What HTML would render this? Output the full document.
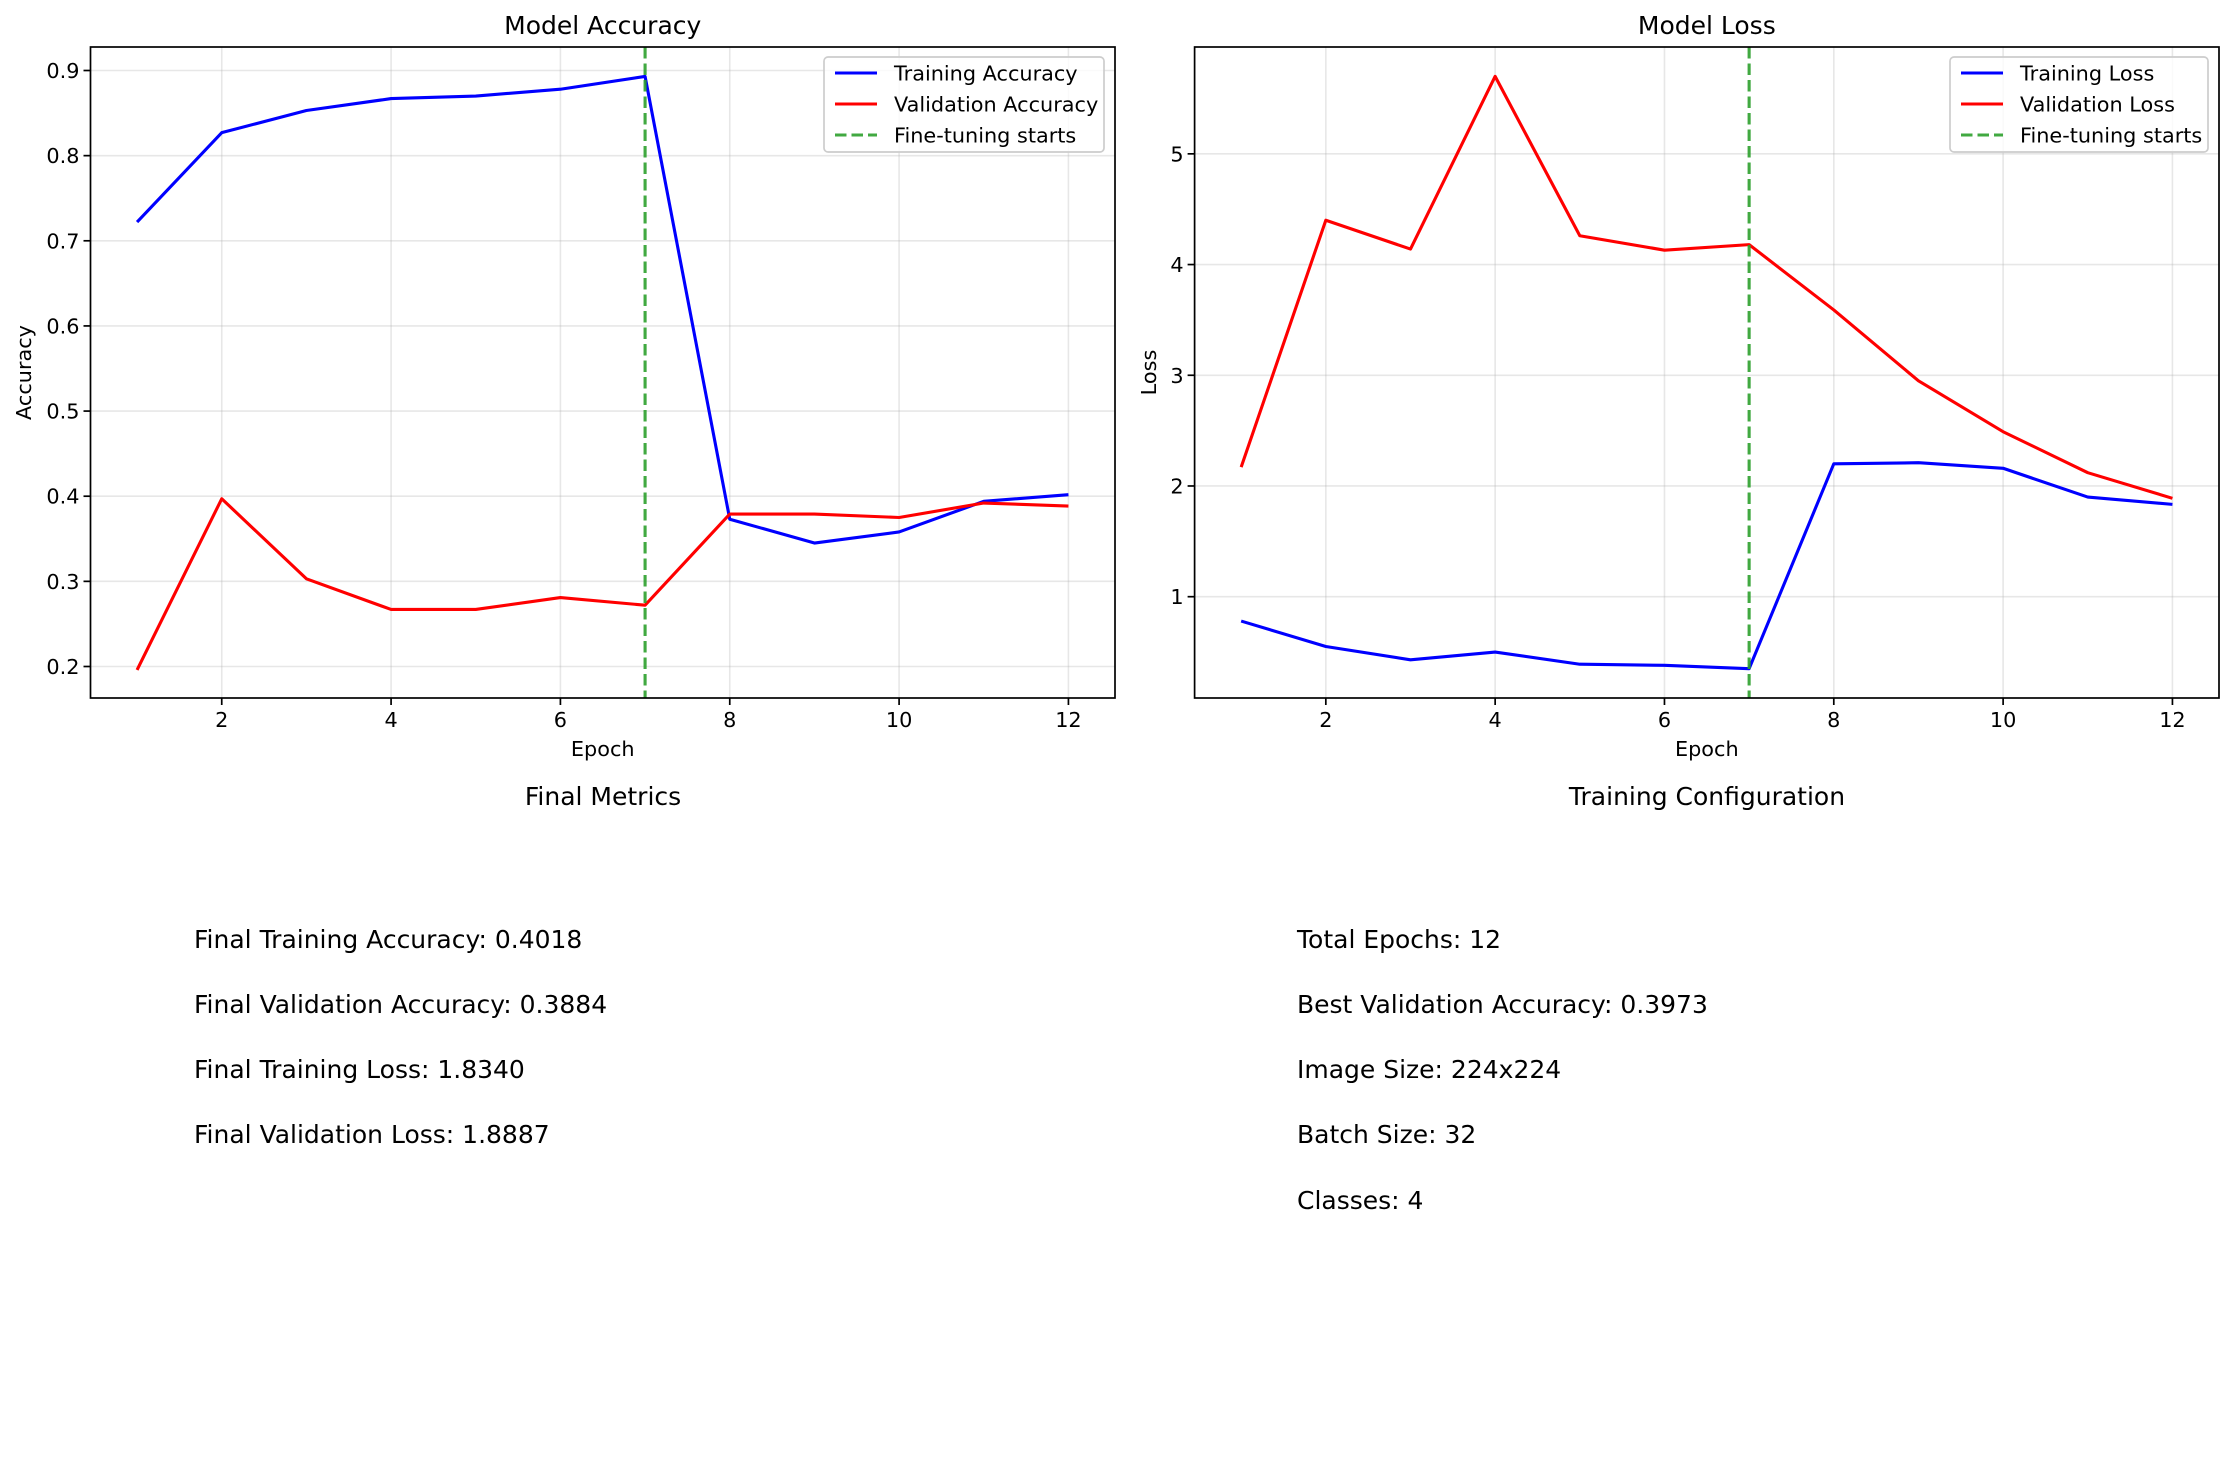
<!DOCTYPE html>
<html><head><meta charset="utf-8"><style>
html,body{margin:0;padding:0;background:#fff;}
svg{display:block;font-family:"DejaVu Sans","Liberation Sans",sans-serif;}
</style></head><body>
<svg id="fig" width="2234" height="1483" viewBox="0 0 2234 1483" xmlns="http://www.w3.org/2000/svg">
<rect width="2234" height="1483" fill="#fff"/>
<g id="accChart"></g>
<g id="lossChart"></g>
<g font-size="25" fill="#000">
<text x="603" y="805" text-anchor="middle" font-size="25">Final Metrics</text>
<text x="194" y="948">Final Training Accuracy: 0.4018</text>
<text x="194" y="1013">Final Validation Accuracy: 0.3884</text>
<text x="194" y="1078">Final Training Loss: 1.8340</text>
<text x="194" y="1143">Final Validation Loss: 1.8887</text>
</g>
<g font-size="25" fill="#000">
<text x="1707" y="805" text-anchor="middle" font-size="25">Training Configuration</text>
<text x="1297" y="948">Total Epochs: 12</text>
<text x="1297" y="1013">Best Validation Accuracy: 0.3973</text>
<text x="1297" y="1078">Image Size: 224x224</text>
<text x="1297" y="1143">Batch Size: 32</text>
<text x="1297" y="1209">Classes: 4</text>
</g>
</svg>
<script>
const epochs = [1,2,3,4,5,6,7,8,9,10,11,12];
const trainAcc = [0.722,0.827,0.853,0.867,0.870,0.878,0.893,0.373,0.345,0.358,0.394,0.4018];
const valAcc = [0.196,0.397,0.303,0.267,0.267,0.281,0.272,0.379,0.379,0.375,0.392,0.3884];
const trainLoss = [0.78,0.55,0.43,0.50,0.39,0.38,0.35,2.20,2.21,2.16,1.90,1.834];
const valLoss = [2.17,4.40,4.14,5.70,4.26,4.13,4.18,3.59,2.95,2.49,2.12,1.8887];
const xTicks = [2,4,6,8,10,12];
const accTicks = [0.2,0.3,0.4,0.5,0.6,0.7,0.8,0.9];
const lossTicks = [1,2,3,4,5];
const fineTuneEpoch = 7;

const NS = "http://www.w3.org/2000/svg";
function mk(parent, tag, attrs){
  const e = document.createElementNS(NS, tag);
  for (const k in attrs) e.setAttribute(k, attrs[k]);
  parent.appendChild(e);
  return e;
}
function drawChart(g, cfg){
  const L=cfg.left, R=cfg.right, T=47, B=698;
  const sx = v => L + (v-0.45)/(12.55-0.45)*(R-L);
  const sy = v => B - (v-cfg.ymin)/(cfg.ymax-cfg.ymin)*(B-T);
  xTicks.forEach(t=>{
    const ln = mk(g,'line',{x1:sx(t),x2:sx(t),y1:T,y2:B,stroke:'#b0b0b0','stroke-opacity':0.3,'stroke-width':1.6});
    
    
  });
  cfg.yTicks.forEach(t=>{
    const ln = mk(g,'line',{x1:L,x2:R,y1:sy(t),y2:sy(t),stroke:'#b0b0b0','stroke-opacity':0.3,'stroke-width':1.6});
    
    
  });
  const series = [[cfg.train,'#0000ff','training-line'],[cfg.val,'#ff0000','validation-line']];
  series.forEach(s=>{
    const pts = epochs.map((e,i)=>sx(e)+','+sy(s[0][i])).join(' ');
    const pl = mk(g,'polyline',{points:pts,fill:'none',stroke:s[1],'stroke-width':3.1,'stroke-linejoin':'round'});
    
    
  });
  const vl = mk(g,'line',{x1:sx(fineTuneEpoch),x2:sx(fineTuneEpoch),y1:T,y2:B,stroke:'#2ca02c','stroke-opacity':0.9,'stroke-width':3.1,'stroke-dasharray':'11.5,5'});
  
  
  const fr = mk(g,'rect',{x:L,y:T,width:R-L,height:B-T,fill:'none',stroke:'#000','stroke-width':1.7});
  
  
  xTicks.forEach(t=>{
    mk(g,'line',{x1:sx(t),x2:sx(t),y1:B,y2:B+7,stroke:'#000','stroke-width':1.7});
    const tx = mk(g,'text',{x:sx(t),y:B+29,'text-anchor':'middle','font-size':20.8});
    tx.textContent = t;
    
    
  });
  cfg.yTicks.forEach(t=>{
    mk(g,'line',{x1:L-7,x2:L,y1:sy(t),y2:sy(t),stroke:'#000','stroke-width':1.7});
    const tx = mk(g,'text',{x:L-11,y:sy(t)+7.5,'text-anchor':'end','font-size':20.8});
    tx.textContent = cfg.fmt(t);
    
    
  });
  const title = mk(g,'text',{x:(L+R)/2,y:34,'text-anchor':'middle','font-size':25});
  title.textContent = cfg.title;
  
  
  const xl = mk(g,'text',{x:(L+R)/2,y:756,'text-anchor':'middle','font-size':20.8});
  xl.textContent = 'Epoch';
  
  
  const yl = mk(g,'text',{x:cfg.ylx,y:(T+B)/2,'text-anchor':'middle','font-size':20.8,transform:'rotate(-90 '+cfg.ylx+' '+((T+B)/2)+')'});
  yl.textContent = cfg.ylabel;
  
  
  const lg = mk(g,'g',{});
  
  
  mk(lg,'rect',{x:cfg.lgx,y:57,width:cfg.lgw,height:95,rx:4,fill:'#fff','fill-opacity':0.8,stroke:'#cccccc','stroke-width':1.7});
  const entries = [[cfg.names[0],'#0000ff',null],[cfg.names[1],'#ff0000',null],['Fine-tuning starts','#2ca02c','11.5,5']];
  entries.forEach((en,i)=>{
    const y = 73 + i*31;
    const a = {x1:cfg.lgx+11,x2:cfg.lgx+53,y1:y,y2:y,stroke:en[1],'stroke-width':3.1};
    if (en[2]) { a['stroke-dasharray']=en[2]; a['stroke-opacity']=0.9; }
    mk(lg,'line',a);
    const tx = mk(lg,'text',{x:cfg.lgx+70,y:y+7.5,'font-size':20.8});
    tx.textContent = en[0];
    
    
  });
}
drawChart(document.getElementById('accChart'),{left:90.5,right:1115,ymin:0.163,ymax:0.9276,yTicks:accTicks,train:trainAcc,val:valAcc,
  fmt:v=>v.toFixed(1),title:'Model Accuracy',ylabel:'Accuracy',ylx:31,lgx:824,lgw:280,names:['Training Accuracy','Validation Accuracy']});
drawChart(document.getElementById('lossChart'),{left:1194.6,right:2219,ymin:0.085,ymax:5.965,yTicks:lossTicks,train:trainLoss,val:valLoss,
  fmt:v=>String(v),title:'Model Loss',ylabel:'Loss',ylx:1156,lgx:1950,lgw:258,names:['Training Loss','Validation Loss']});
</script>
</body></html>
